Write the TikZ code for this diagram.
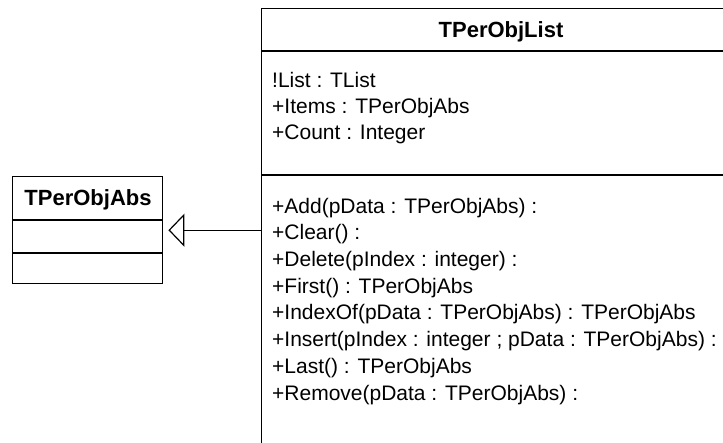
\documentclass[tikz,border=0pt]{standalone}
\usepackage{fontspec}
\setmainfont{Liberation Sans}
\usetikzlibrary{arrows.meta}
\begin{document}
\begin{tikzpicture}[x=1pt,y=-1pt,
  box/.style={draw=black, line width=1.4pt, inner sep=0pt, fill=white},
  txt/.style={anchor=base west, inner sep=0pt, font=\fontsize{21}{25}\selectfont},
  ttl/.style={anchor=base, inner sep=0pt, font=\fontsize{22}{26}\selectfont\bfseries},
  sep/.style={line width=1.4pt},
  gen/.style={line width=1.4pt, -{Triangle[open, length=16pt, width=33pt, line width=1.2pt]}, shorten >=5pt}]
\useasboundingbox (0,0) rectangle (723,442);
\clip (0,0) rectangle (723,442);
% TPerObjList
\node[box, anchor=north west, minimum width=480pt, minimum height=460pt] (list) at (261,8) {};
\draw[sep] (261,51) -- (741,51);
\draw[sep] (261,175) -- (741,175);
\node[ttl] (listname) at (501,37) {TPerObjList};
\node[txt] (a1) at (272,87) {!List : TList};
\node[txt] (a2) at (272,113) {+Items : TPerObjAbs};
\node[txt] (a3) at (272,139) {+Count : Integer};
\node[txt] (m1) at (272,213) {+Add(pData : TPerObjAbs) :};
\node[txt] (m2) at (272,239.7) {+Clear() :};
\node[txt] (m3) at (272,266.4) {+Delete(pIndex : integer) :};
\node[txt] (m4) at (272,293.1) {+First() : TPerObjAbs};
\node[txt] (m5) at (272,319.8) {+IndexOf(pData : TPerObjAbs) : TPerObjAbs};
\node[txt] (m6) at (272,346.5) {+Insert(pIndex : integer ; pData : TPerObjAbs) :};
\node[txt] (m7) at (272,373.2) {+Last() : TPerObjAbs};
\node[txt] (m8) at (272,400) {+Remove(pData : TPerObjAbs) :};
% TPerObjAbs
\node[box, anchor=north west, minimum width=150pt, minimum height=107pt] (abs) at (12,176) {};
\draw[sep] (12,220) -- (162,220);
\draw[sep] (12,253) -- (162,253);
\node[ttl] (absname) at (88,205) {TPerObjAbs};
% generalization
\draw[gen] (list.west |- abs.east) -- (abs.east);
\end{tikzpicture}
\end{document}
